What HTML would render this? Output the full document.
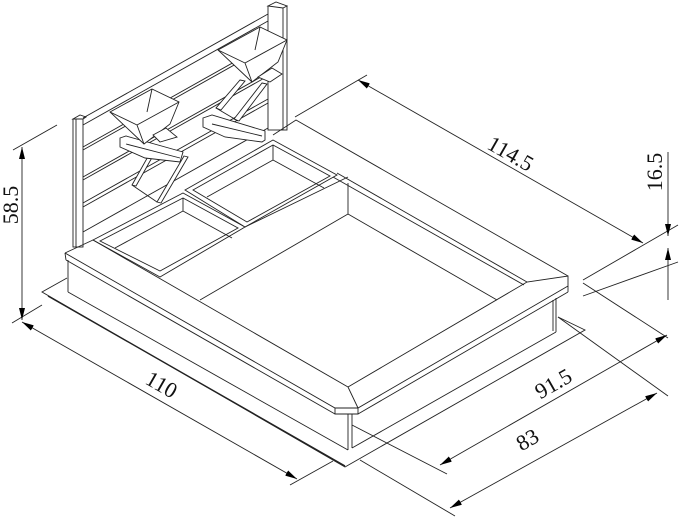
<!DOCTYPE html>
<html><head><meta charset="utf-8"><style>
html,body{margin:0;padding:0;background:#fff}
svg{display:block}
text{font-family:"Liberation Serif",serif;font-size:22px;fill:#111}
</style></head><body>
<svg width="679" height="517" viewBox="0 0 679 517" xmlns="http://www.w3.org/2000/svg">
<defs>
<marker id="a" viewBox="0 0 12 6" refX="12" refY="3" markerWidth="12" markerHeight="6" markerUnits="userSpaceOnUse" orient="auto"><path d="M0,0 L12,3 L0,6 Z" fill="#000"/></marker>
<marker id="b" viewBox="0 0 12 6" refX="0" refY="3" markerWidth="12" markerHeight="6" markerUnits="userSpaceOnUse" orient="auto"><path d="M12,0 L0,3 L12,6 Z" fill="#000"/></marker>
<g id="box" fill="#fff" stroke="#222" stroke-width="0.9">
<polygon points="218,50 260,27 287,40 278,62 252,82"/>
<line x1="218" y1="50" x2="245" y2="63"/><line x1="245" y1="63" x2="287" y2="40"/>
<line x1="245" y1="63" x2="252" y2="82"/><line x1="260" y1="27" x2="255" y2="50"/>
</g>
</defs>
<g fill="none" stroke="#222" stroke-width="0.9">
<!-- base platform -->
<polyline points="67,278 42,292 345,467 585,330 558,317"/>
<line x1="48" y1="296" x2="345" y2="466" stroke-width="1.4"/>
<!-- headboard posts -->
<rect x="73" y="119" width="10" height="128" fill="#fff"/>
<line x1="76" y1="119" x2="76" y2="247"/>
<polygon points="73,119 80,115 86,117 83,119" fill="#fff"/>
<rect x="268" y="6" width="19" height="124" fill="#fff"/>
<line x1="283" y1="8" x2="283" y2="130"/>
<polygon points="268,6 276,2 287,6 283,8" fill="#fff"/>
<!-- slats -->
<line x1="83" y1="118" x2="268" y2="14"/>
<line x1="83" y1="125" x2="268" y2="21"/>
<line x1="83" y1="147" x2="268" y2="43"/><line x1="83" y1="150" x2="268" y2="46"/>
<line x1="83" y1="177" x2="268" y2="73"/><line x1="83" y1="180" x2="268" y2="76"/>
<line x1="83" y1="203" x2="268" y2="99"/><line x1="83" y1="207" x2="268" y2="103"/>
<line x1="83" y1="232" x2="268" y2="128"/>
<!-- right planter -->
<g fill="#fff">
<polygon points="240,80 245,81 221,110 216,108"/>
<polygon points="262,83 267,84 239,121 234,119"/>
<polyline points="216,108 238,121"/>
<polygon points="203,118 212,115 265,131 265,140 262,142 225,137 203,127"/>
<line x1="212" y1="124" x2="262" y2="136"/>
</g>
<use href="#box"/>
<polygon points="258,77 272,68 282,74 270,82" fill="#fff"/>
<!-- left planter -->
<g fill="#fff">
<polygon points="150,153 154,154 136,186 132,185"/>
<polygon points="184,156 188,157 161,203 157,202"/>
<line x1="132" y1="185" x2="157" y2="202"/>
<polygon points="120,138 126,136 183,152 180,162 145,158 120,147"/>
<line x1="126" y1="144" x2="180" y2="158"/>
</g>
<use href="#box" transform="translate(-108,62)"/>
<polygon points="153,135 166,128 177,137 160,142" fill="#fff"/>
<!-- right rim -->
<polyline points="273,135 296,120 568,276"/>
<line x1="337" y1="173" x2="527" y2="282"/>
<line x1="333" y1="177" x2="524" y2="285"/>
<line x1="348" y1="183" x2="348" y2="214"/>
<!-- mattress area -->
<polyline points="200,300 348,214 497,300"/>
<!-- planter boxes -->
<polygon points="93,240 183,193 245,227 160,277" fill="#fff"/>
<polygon points="100,241 183,198 238,228 160,271"/>
<polyline points="183,198 183,211 232,238"/>
<line x1="183" y1="211" x2="115" y2="248"/>
<polygon points="185,190 273,140 337,175 245,227" fill="#fff"/>
<polygon points="193,190 273,145 330,176 247,222"/>
<polyline points="273,145 273,160 324,188"/>
<line x1="273" y1="160" x2="207" y2="197"/>
<line x1="245" y1="227" x2="348" y2="177"/>
<!-- front-left rim -->
<line x1="93" y1="240" x2="348" y2="387"/>
<line x1="65" y1="253" x2="93" y2="240"/>
<polyline points="65,253 335,408 358,408 568,286 568,276 527,282 348,387"/>
<line x1="65" y1="253" x2="66" y2="260"/>
<line x1="66" y1="260" x2="335" y2="414"/>
<polyline points="335,408 335,414 358,414 358,408"/>
<line x1="358" y1="414" x2="568" y2="292"/>
<line x1="568" y1="286" x2="568" y2="292"/>
<line x1="358" y1="408" x2="348" y2="387"/>
<line x1="68" y1="260" x2="68" y2="292"/>
<line x1="68" y1="292" x2="348" y2="450"/>
<line x1="348" y1="414" x2="348" y2="450"/><line x1="352" y1="414" x2="352" y2="448"/>
<line x1="352" y1="448" x2="556" y2="332"/>
<line x1="553" y1="300" x2="553" y2="331"/><line x1="556" y1="298" x2="556" y2="332"/>
<!-- dimensions -->
<line x1="13" y1="150" x2="57" y2="125"/>
<line x1="12" y1="323" x2="42" y2="305"/>
<line x1="22" y1="147" x2="22" y2="320" marker-start="url(#b)" marker-end="url(#a)"/>
<line x1="22" y1="322" x2="297" y2="479" marker-start="url(#b)" marker-end="url(#a)"/>
<line x1="290" y1="485" x2="333" y2="461"/>
<line x1="295" y1="117" x2="367" y2="75"/>
<line x1="358" y1="80" x2="643" y2="243" marker-start="url(#b)" marker-end="url(#a)"/>
<line x1="583" y1="280" x2="678" y2="225"/>
<line x1="583" y1="296" x2="678" y2="262"/>
<line x1="583" y1="283" x2="668" y2="338"/>
<line x1="352" y1="425" x2="447" y2="474"/>
<line x1="440" y1="465" x2="667" y2="335" marker-start="url(#b)" marker-end="url(#a)"/>
<line x1="558" y1="317" x2="668" y2="396"/>
<line x1="360" y1="460" x2="455" y2="516"/>
<line x1="450" y1="508" x2="657" y2="393" marker-start="url(#b)" marker-end="url(#a)"/>
<line x1="668" y1="152" x2="668" y2="236" marker-end="url(#a)"/>
<line x1="668" y1="300" x2="668" y2="248" marker-end="url(#a)"/>
</g>
<text transform="translate(18,205) rotate(-90)" text-anchor="middle">58.5</text>
<text transform="translate(158,391) rotate(29.7)" text-anchor="middle">110</text>
<text transform="translate(507,160) rotate(29.7)" text-anchor="middle">114.5</text>
<text transform="translate(662,172) rotate(-90)" text-anchor="middle">16.5</text>
<text transform="translate(557,390) rotate(-29.7)" text-anchor="middle">91.5</text>
<text transform="translate(531,446) rotate(-29.7)" text-anchor="middle">83</text>
</svg>
</body></html>
